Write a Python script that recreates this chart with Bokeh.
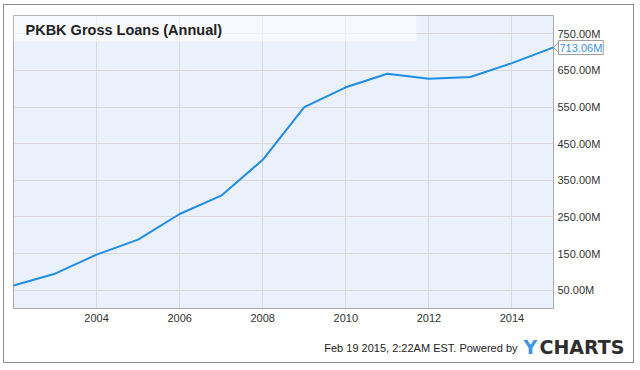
from bokeh.plotting import figure
from bokeh.models import FixedTicker, PrintfTickFormatter, Label, BoxAnnotation
from bokeh.embed import file_html
from bokeh.resources import INLINE

# ---- data (values in millions of USD) ----
years = [2002, 2003, 2004, 2005, 2006, 2007, 2008, 2009, 2010, 2011, 2012, 2013, 2014, 2015]
gross_loans = [63, 95, 147, 188, 258, 308, 406, 550, 604, 641, 627, 632, 670, 713.06]
y_ticks = [50, 150, 250, 350, 450, 550, 650, 750]
x_ticks = [2004, 2006, 2008, 2010, 2012, 2014]
title_text = "PKBK Gross Loans (Annual)"
footer_text = "Feb 19 2015, 2:22AM EST. Powered by"
logo_head = "Y"
logo_tail = "CHARTS"

FONT = "Liberation Sans"
LINE = "#1f8dea"
BORDER = "#8c8c8c"
CALLOUT = "#a0a0a0"

p = figure(width=640, height=370, x_range=(2002, 2015), y_range=(0, 800),
           y_axis_location="right", output_backend="svg", toolbar_location=None,
           min_border_left=13, min_border_right=87, min_border_top=15, min_border_bottom=62)
p.background_fill_color = "#eaf1fc"
p.border_fill_color = None
p.outline_line_color = "#a8a8a8"
p.outline_line_width = 1

# outer frame of the whole chart and the callout's pointer, drawn as the
# page element's background (outside the plot frame)
line = f"linear-gradient({BORDER}, {BORDER})"
ptr_up = f"linear-gradient(to bottom right, transparent 40%, {CALLOUT} 50%, transparent 60%)"
ptr_dn = f"linear-gradient(to top right, transparent 40%, {CALLOUT} 50%, transparent 60%)"
p.styles = {
    "background-color": "white",
    "background-image": ", ".join([line] * 4 + [ptr_up, ptr_dn]),
    "background-position": "3px 4px, 3px 362px, 3px 4px, 633px 4px, 553px 43px, 553px 47px",
    "background-size": "631px 1px, 631px 1px, 1px 359px, 1px 359px, 5px 5px, 5px 5px",
    "background-repeat": "no-repeat",
}

p.xgrid.ticker = FixedTicker(ticks=x_ticks)
p.ygrid.ticker = FixedTicker(ticks=y_ticks)
for g in (p.xgrid, p.ygrid):
    g.grid_line_color = "#d9d9d9"
    g.grid_line_width = 1

xa = p.xaxis[0]
xa.ticker = FixedTicker(ticks=x_ticks)
ya = p.yaxis[0]
ya.ticker = FixedTicker(ticks=y_ticks)
ya.formatter = PrintfTickFormatter(format="%.2fM")
for ax in (xa, ya):
    ax.axis_line_color = None
    ax.major_tick_line_color = None
    ax.minor_tick_line_color = None
    ax.major_tick_out = 0
    ax.major_tick_in = 0
    ax.minor_tick_out = 0
    ax.minor_tick_in = 0
    ax.major_label_text_font = FONT
    ax.major_label_text_font_size = "11px"
    ax.major_label_text_color = "#333333"
xa.major_label_standoff = 5
ya.major_label_standoff = 4

p.line(years, gross_loans, line_color=LINE, line_width=2)

# title box (inside the frame)
p.add_layout(BoxAnnotation(left=13, right=416, top=15, bottom=41,
                           left_units="canvas", right_units="canvas",
                           top_units="canvas", bottom_units="canvas",
                           fill_color="white", fill_alpha=0.6, line_color=None))
p.add_layout(Label(x=25, y=29, x_units="canvas", y_units="canvas", text=title_text,
                   text_font=FONT, text_font_size="14.5px", text_font_style="bold",
                   text_color="#222222", text_baseline="middle"))

# last value callout (outside the frame -> placed in a side panel)
last = gross_loans[-1]
p.add_layout(Label(x=558, y=47, x_units="canvas", y_units="canvas",
                   text=f"{last:.2f}M", text_font=FONT, text_font_size="11px",
                   text_color="#3a8ee6", text_baseline="middle",
                   border_line_color=CALLOUT, background_fill_color="white",
                   padding=1), "above")

# footer
p.add_layout(Label(x=517, y=347, x_units="canvas", y_units="canvas", text=footer_text,
                   text_font=FONT, text_font_size="11px", text_color="#222222",
                   text_align="right", text_baseline="middle"), "below")
p.add_layout(Label(x=523, y=346, x_units="canvas", y_units="canvas", text=logo_head,
                   text_font="DejaVu Sans", text_font_size="19px", text_font_style="bold",
                   text_color="#3c96ea", text_baseline="middle"), "right")
p.add_layout(Label(x=539, y=346, x_units="canvas", y_units="canvas", text=logo_tail,
                   text_font="DejaVu Sans", text_font_size="19px", text_font_style="bold",
                   text_color="#2e2e2e", text_baseline="middle"), "below")

open("out.html", "w").write(file_html(p, INLINE))
